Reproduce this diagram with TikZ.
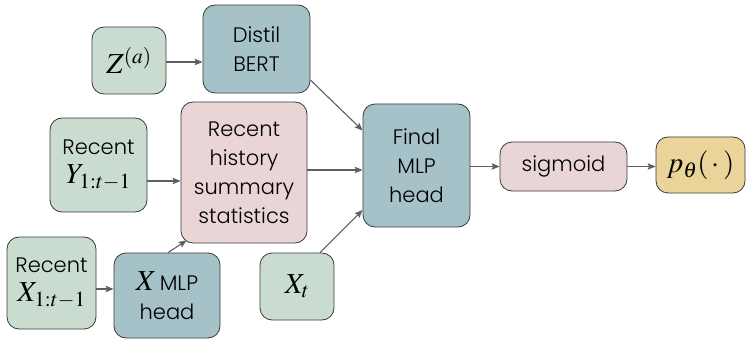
\documentclass[tikz,border=0pt]{standalone}
\usepackage{mathptmx}
\usepackage{fontspec}
\setmainfont{Poppins}[UprightFont=* Light]
\usetikzlibrary{arrows.meta}
\definecolor{cgreen}{HTML}{CADBCF}
\definecolor{cteal}{HTML}{A5C2C9}
\definecolor{cpink}{HTML}{E9D4D6}
\definecolor{cyellow}{HTML}{EBD49A}
\definecolor{cborder}{HTML}{3A3A3A}
\definecolor{carrow}{HTML}{5A6068}
\newcommand{\mth}[1]{{\fontsize{29pt}{31pt}\selectfont$#1$}}
\begin{document}
\begin{tikzpicture}[x=1pt,y=-1pt,
  box/.style={draw=cborder,line width=0.8pt,rounded corners=12pt,align=center,inner sep=0pt,
    font=\fontsize{21pt}{29pt}\selectfont},
  gbox/.style={box,fill=cgreen},
  tbox/.style={box,fill=cteal},
  pbox/.style={box,fill=cpink},
  ybox/.style={box,fill=cyellow},
  arr/.style={draw=carrow,line width=1.1pt,-{Stealth[length=8pt,width=6.5pt,inset=1.5pt]}}]
\useasboundingbox (0,0) rectangle (746,339);
\node[gbox,minimum width=74pt,minimum height=67pt] (z) at (129,60.5) {\mth{Z^{(a)}}};
\node[tbox,minimum width=107pt,minimum height=88pt] (bert) at (256.5,49) {Distil\\BERT};
\node[gbox,minimum width=97pt,minimum height=94pt] (recy) at (98.5,165) {Recent\\\mth{Y_{1:t-1}}};
\node[pbox,minimum width=126pt,minimum height=141pt] (hist) at (244,172.5) {Recent\\history\\summary\\statistics};
\node[gbox,minimum width=89pt,minimum height=92pt] (recx) at (51.5,283) {Recent\\\mth{X_{1:t-1}}};
\node[tbox,minimum width=106pt,minimum height=85pt] (xmlp) at (167,295.5) {\mth{X}\,MLP\\head};
\node[gbox,minimum width=74pt,minimum height=67pt] (xt) at (297,286.5) {\mth{X_t}};
\node[tbox,minimum width=107pt,minimum height=123pt] (final) at (416.5,165.5) {Final\\MLP\\head};
\node[pbox,minimum width=127pt,minimum height=49pt] (sig) at (563.5,166.5) {sigmoid};
\node[ybox,minimum width=89pt,minimum height=56pt] (p) at (700.5,165) {\mth{p_\theta(\,\cdot\,)}};
\draw[arr] ([yshift=-1.5pt]z.east) -- ([yshift=-1.5pt]z.east -| bert.west);
\draw[arr] ([yshift=-31pt]bert.east) -- ([yshift=35pt]final.west);
\draw[arr] ([yshift=2.5pt]hist.east) -- ([yshift=2.5pt]hist.east -| final.west);
\draw[arr] ([yshift=-16pt]recy.east) -- ([yshift=-16pt]recy.east -| hist.west);
\draw[arr] ([yshift=-6pt]recx.east) -- ([yshift=-6pt]recx.east -| xmlp.west);
\draw[arr] ([xshift=1pt]xmlp.north) -- ([shift={(6pt,3pt)}]hist.south west);
\draw[arr] ([xshift=23pt]xt.north) -- ([yshift=-44.5pt]final.west);
\draw[arr] (sig.west -| final.east) -- (sig.west);
\draw[arr] (sig.east) -- (sig.east -| p.west);
\end{tikzpicture}
\end{document}
